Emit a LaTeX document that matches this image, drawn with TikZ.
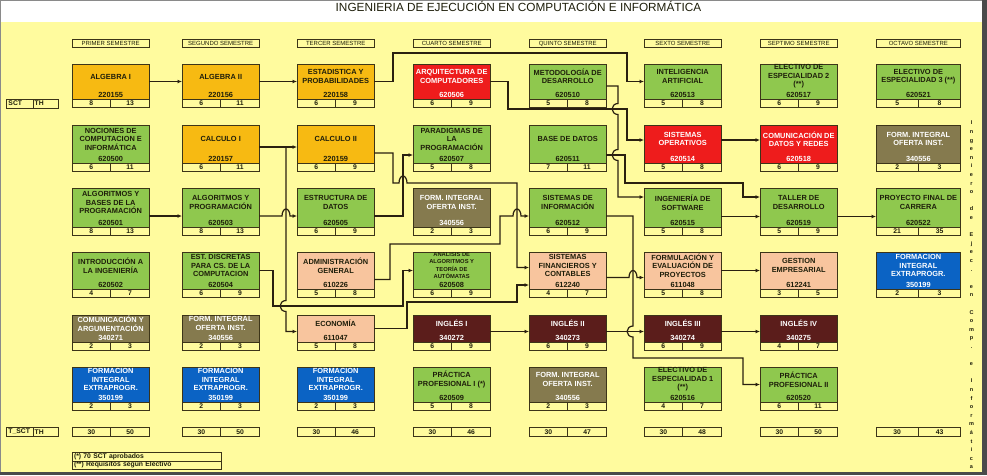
\documentclass[tikz,border=0pt]{standalone}
\usepackage{fontspec}
\setmainfont{Liberation Sans}
\usepackage{tikz}
\usetikzlibrary{arrows.meta}

\definecolor{cPaper}{HTML}{FFFB9E}
\definecolor{cFrame}{HTML}{8A8A8A}
\definecolor{cFrameDk}{HTML}{4A4A4A}
\definecolor{cAmber}{HTML}{F7BA12}
\definecolor{cLeaf}{HTML}{8FC84E}
\definecolor{cRed}{HTML}{EE1C1C}
\definecolor{cOlive}{HTML}{857A4E}
\definecolor{cBlue}{HTML}{0B63C4}
\definecolor{cPeach}{HTML}{F8C59E}
\definecolor{cWine}{HTML}{5B1D1B}
\definecolor{cEdge}{HTML}{3C3418}
\definecolor{cWire}{HTML}{2A2010}
\definecolor{cInk}{HTML}{1E1E0A}

%% one course: coloured block + SCT/TH strip below it
%% [#1 width] #2 name, #3 colour kind, #4 left x, #5 title, #6 code, #7 SCT, #8 TH
\newcommand{\course}[8][77.4]{%
  \node[#3box, minimum width=#1pt, minimum height=\rowh pt, anchor=north west]
    (#2) at (#4,\rowy) {};
  \node[ctitle, #3txt] (#2n) at ([yshift={-(\rowh-10)/2}]#2.north) {#5};
  \node[#3txt, ccode]  (#2c) at ([yshift=4.5]#2.south) {#6};
  \node[cell, minimum width=#1/2*1pt, anchor=north west] (#2s) at (#2.south west) {#7};
  \node[cell, minimum width=#1/2*1pt, anchor=north east] (#2t) at (#2.south east) {#8};
}
%% semester totals: [#1 width] #2 name, #3 left x, #4 SCT, #5 TH
\newcommand{\totals}[5][77.4]{%
  \node[cell, minimum width=#1/2*1pt, anchor=north west] (#2s) at (#3,427.7) {#4};
  \node[cell, minimum width=#1/2*1pt, anchor=north west] (#2t) at (#2s.north east) {#5};
}

\begin{document}
\begin{tikzpicture}[
    x=1pt, y=-1pt,
    >={Latex[length=4.5pt,width=4pt]},
    %% ── node styles ──────────────────────────────────────────
    box/.style    = {draw=cEdge, line width=0.8pt, inner sep=0pt, outer sep=0pt},
    ambbox/.style = {box, fill=cAmber},
    grnbox/.style = {box, fill=cLeaf},
    gsmbox/.style = {box, fill=cLeaf},
    redbox/.style = {box, fill=cRed},
    olvbox/.style = {box, fill=cOlive},
    blubox/.style = {box, fill=cBlue},
    pchbox/.style = {box, fill=cPeach},
    winbox/.style = {box, fill=cWine},
    ambtxt/.style = {text=cInk},
    grntxt/.style = {text=cInk},
    gsmtxt/.style = {text=cInk, font=\fontsize{5.8}{7.2}\selectfont\bfseries},
    pchtxt/.style = {text=cInk},
    redtxt/.style = {text=white},
    olvtxt/.style = {text=white},
    blutxt/.style = {text=white},
    wintxt/.style = {text=white},
    ctitle/.style = {font=\fontsize{7.4}{8.5}\selectfont\bfseries, align=center, inner sep=0pt},
    ccode/.style  = {font=\fontsize{7.4}{8.5}\selectfont\bfseries, inner sep=0pt},
    cell/.style   = {draw=cEdge, line width=0.8pt, inner sep=0pt, outer sep=0pt,
                     minimum height=8.6pt, text=cInk,
                     font=\fontsize{6.8}{7}\selectfont\bfseries},
    lbl/.style    = {cell, anchor=north west, align=left, text width=22pt},
    sem/.style    = {draw=cEdge, line width=0.7pt, inner sep=0pt, outer sep=0pt,
                     minimum width=77.4pt, minimum height=8.4pt, anchor=north west,
                     text=cInk, font=\fontsize{6}{6}\selectfont},
    arr/.style    = {->, line width=1.2pt, draw=cWire}
]

%% ── frame and title ──────────────────────────────────────────
\useasboundingbox (0,0) rectangle (987,475);
\fill[cFrame] (0,0) rectangle (987,475);
\fill[white] (1,1) rectangle (982,22);
\fill[cPaper] (1,22) rectangle (982,472);
\fill[cFrameDk] (982,0) rectangle (987,475);
\fill[cFrameDk] (0,472) rectangle (987,475);

\node[font=\fontsize{11.8}{12}\selectfont, text=cInk] (title) at (518.5,6.8)
    {INGENIERIA DE EJECUCIÓN EN COMPUTACIÓN E INFORMÁTICA};

%% ── semester headers ─────────────────────────────────────────
\node[sem] (sem1) at (72,39.3)  {PRIMER SEMESTRE};
\node[sem] (sem2) at (182,39.3) {SEGUNDO SEMESTRE};
\node[sem] (sem3) at (297,39.3) {TERCER SEMESTRE};
\node[sem] (sem4) at (413,39.3) {CUARTO SEMESTRE};
\node[sem] (sem5) at (529,39.3) {QUINTO SEMESTRE};
\node[sem] (sem6) at (644,39.3) {SEXTO SEMESTRE};
\node[sem] (sem7) at (760,39.3) {SEPTIMO SEMESTRE};
\node[sem, minimum width=84.7pt] (sem8) at (876,39.3) {OCTAVO SEMESTRE};

%% ── row labels ───────────────────────────────────────────────
\node[lbl, minimum width=27pt]   (sctl)  at (6,99.3)  {SCT};
\node[lbl, minimum width=25.3pt] (thl)   at (sctl.north east) {TH};
\node[lbl, minimum width=27pt]   (tsctl) at (6,427.7) {T\_SCT};
\node[lbl, minimum width=25.3pt] (tthl)  at (tsctl.north east) {TH};

%% ── row 1 ────────────────────────────────────────────────────
\def\rowy{64}\def\rowh{35}
\course{alg1}{amb}{72}{ALGEBRA I}{220155}{8}{13}
\course{alg2}{amb}{182}{ALGEBRA II}{220156}{6}{11}
\course{estad}{amb}{297}{ESTADISTICA Y\\PROBABILIDADES}{220158}{6}{9}
\course{arq}{red}{413}{ARQUITECTURA DE\\COMPUTADORES}{620506}{6}{9}
\course{metod}{grn}{529}{METODOLOGÍA DE\\DESARROLLO}{620510}{5}{8}
\course{ia}{grn}{644}{INTELIGENCIA\\ARTIFICIAL}{620513}{5}{8}
\course{elec2}{grn}{760}{ELECTIVO DE\\ESPECIALIDAD 2\\(**)}{620517}{6}{9}
\course[84.7]{elec3}{grn}{876}{ELECTIVO DE\\ESPECIALIDAD 3 (**)}{620521}{5}{8}

%% ── row 2 ────────────────────────────────────────────────────
\def\rowy{125}\def\rowh{38}
\course{noc}{grn}{72}{NOCIONES DE\\COMPUTACION E\\INFORMÁTICA}{620500}{6}{11}
\course{calc1}{amb}{182}{CALCULO I}{220157}{6}{11}
\course{calc2}{amb}{297}{CALCULO II}{220159}{6}{9}
\course{parad}{grn}{413}{PARADIGMAS DE\\LA\\PROGRAMACIÓN}{620507}{5}{8}
\course{bdat}{grn}{529}{BASE DE DATOS}{620511}{7}{11}
\course{so}{red}{644}{SISTEMAS\\OPERATIVOS}{620514}{5}{8}
\course{cdr}{red}{760}{COMUNICACIÓN DE\\DATOS Y REDES}{620518}{6}{9}
\course[84.7]{fio8}{olv}{876}{FORM. INTEGRAL\\OFERTA INST.}{340556}{2}{3}

%% ── row 3 ────────────────────────────────────────────────────
\def\rowy{188}\def\rowh{39}
\course{abp}{grn}{72}{ALGORITMOS Y\\BASES DE LA\\PROGRAMACIÓN}{620501}{8}{13}
\course{ayp}{grn}{182}{ALGORITMOS Y\\PROGRAMACIÓN}{620503}{8}{13}
\course{edat}{grn}{297}{ESTRUCTURA DE\\DATOS}{620505}{6}{9}
\course{fio4}{olv}{413}{FORM. INTEGRAL\\OFERTA INST.}{340556}{2}{3}
\course{sinf}{grn}{529}{SISTEMAS DE\\INFORMACIÓN}{620512}{6}{9}
\course{isw}{grn}{644}{INGENIERÍA DE\\SOFTWARE}{620515}{5}{8}
\course{taller}{grn}{760}{TALLER DE\\DESARROLLO}{620519}{5}{9}
\course[84.7]{proy}{grn}{876}{PROYECTO FINAL DE\\CARRERA}{620522}{21}{35}

%% ── row 4 ────────────────────────────────────────────────────
\def\rowy{252}\def\rowh{37}
\course{intro}{grn}{72}{INTRODUCCIÓN A\\LA INGENIERÍA}{620502}{4}{7}
\course{estd}{grn}{182}{EST. DISCRETAS\\PARA CS. DE LA\\COMPUTACION}{620504}{6}{9}
\course{admin}{pch}{297}{ADMINISTRACIÓN\\GENERAL}{610226}{5}{8}
\course{anal}{gsm}{413}{ANALISIS DE\\ALGORITMOS Y\\TEORÍA DE\\AUTÓMATAS}{620508}{6}{9}
\course{sfin}{pch}{529}{SISTEMAS\\FINANCIEROS Y\\CONTABLES}{612240}{4}{7}
\course{form}{pch}{644}{FORMULACIÓN Y\\EVALUACIÓN DE\\PROYECTOS}{611048}{5}{8}
\course{gest}{pch}{760}{GESTION\\EMPRESARIAL}{612241}{3}{5}
\course[84.7]{fie8}{blu}{876}{FORMACION\\INTEGRAL\\EXTRAPROGR.}{350199}{2}{3}

%% ── row 5 ────────────────────────────────────────────────────
\def\rowy{315}\def\rowh{27}
\course{comarg}{olv}{72}{COMUNICACIÓN Y\\ARGUMENTACIÓN}{340271}{2}{3}
\course{fio2}{olv}{182}{FORM. INTEGRAL\\OFERTA INST.}{340556}{2}{3}
\course{econ}{pch}{297}{ECONOMÍA}{611047}{5}{8}
\course{ing1}{win}{413}{INGLÉS I}{340272}{6}{9}
\course{ing2}{win}{529}{INGLÉS II}{340273}{6}{9}
\course{ing3}{win}{644}{INGLÉS III}{340274}{6}{9}
\course{ing4}{win}{760}{INGLÉS IV}{340275}{4}{7}

%% ── row 6 ────────────────────────────────────────────────────
\def\rowy{367}\def\rowh{35}
\course{fie1}{blu}{72}{FORMACION\\INTEGRAL\\EXTRAPROGR.}{350199}{2}{3}
\course{fie2}{blu}{182}{FORMACION\\INTEGRAL\\EXTRAPROGR.}{350199}{2}{3}
\course{fie3}{blu}{297}{FORMACION\\INTEGRAL\\EXTRAPROGR.}{350199}{2}{3}
\course{prac1}{grn}{413}{PRÁCTICA\\PROFESIONAL I (*)}{620509}{5}{8}
\course{fio5}{olv}{529}{FORM. INTEGRAL\\OFERTA INST.}{340556}{2}{3}
\course{elec1}{grn}{644}{ELECTIVO DE\\ESPECIALIDAD 1\\(**)}{620516}{4}{7}
\course{prac2}{grn}{760}{PRÁCTICA\\PROFESIONAL II}{620520}{6}{11}

%% ── totals ───────────────────────────────────────────────────
\totals{tot1}{72}{30}{50}
\totals{tot2}{182}{30}{50}
\totals{tot3}{297}{30}{46}
\totals{tot4}{413}{30}{46}
\totals{tot5}{529}{30}{47}
\totals{tot6}{644}{30}{48}
\totals{tot7}{760}{30}{50}
\totals[84.7]{tot8}{876}{30}{43}

%% ── footnotes ────────────────────────────────────────────────
\node[cell, anchor=north west, minimum width=149pt, minimum height=8.3pt,
      text width=145pt, align=left] (note1) at (72,452.7) {(*) 70 SCT aprobados};
\node[cell, anchor=north west, minimum width=149pt, minimum height=8.3pt,
      text width=145pt, align=left] (note2) at (note1.south west) {(**) Requisitos según Electivo};

%% ── side legend ──────────────────────────────────────────────
\node[anchor=north, inner sep=0pt, align=center, text=cInk,
      font=\fontsize{5.5}{8.6}\selectfont\bfseries] (side) at (971.5,121)
    {I\\n\\g\\e\\n\\i\\e\\r\\o\\[8.6pt]d\\e\\[8.6pt]E\\j\\e\\c\\.\\[8.6pt]e\\n\\[8.6pt]%
     C\\o\\m\\p\\.\\[8.6pt]e\\[8.6pt]I\\n\\f\\o\\r\\m\\á\\t\\i\\c\\a};

%% ── arrows: straight runs ────────────────────────────────────
\draw[arr] (alg1) -- (alg2);
\draw[arr] (alg2) -- (estad);
\draw[arr] ([yshift=-3pt]calc1.east) -- ([yshift=-3pt]calc2.west);
\draw[arr] ([yshift=-8.5pt]abp.east) -- ([yshift=-8.5pt]ayp.west);
\draw[arr] ([yshift=4pt]so.east) -- ([yshift=4pt]cdr.west);
\draw[arr] ([yshift=-9pt]isw.east) -- ([yshift=-9pt]taller.west);
\draw[arr] ([yshift=-9pt]taller.east) -- ([yshift=-9pt]proy.west);
\draw[arr] (form) -- (gest);
\draw[arr] ([yshift=-3pt]ing1.east) -- ([yshift=-3pt]ing2.west);
\draw[arr] ([yshift=-3pt]ing2.east) -- ([yshift=-3pt]ing3.west);
\draw[arr] ([yshift=-3pt]ing3.east) -- ([yshift=-3pt]ing4.west);

%% ── arrows: elbow runs ───────────────────────────────────────
\draw[arr] (estad.east) -| (393,53) -| (627,81.5) -- (ia.west);
\draw[arr] (arq.east) -| (508,109) -| (627,140) -- ([yshift=4pt]so.west);
\draw[arr] ([yshift=-4.5pt]metod.east) -- (618,86) -- (618,103.5)
    arc[start angle=90, end angle=270, x radius=6pt, y radius=5.5pt] -- (618,149.5)
    arc[start angle=90, end angle=270, x radius=6pt, y radius=5.5pt]
    |- ([yshift=10.5pt]isw.west);
\draw[arr] ([yshift=-11pt]bdat.east) -| (625,183) -| (743,197) -- ([yshift=10.5pt]taller.west);
\draw[arr] ([yshift=-3pt]calc1.east) -| (286,300.5)
    arc[start angle=90, end angle=270, x radius=6pt, y radius=5.5pt]
    |- ([yshift=-3pt]econ.west);
\draw[arr] ([yshift=-8.5pt]ayp.east) -- (282,216)
    arc[start angle=180, end angle=0, x radius=4pt, y radius=7pt]
    -- ([yshift=-8.5pt]edat.west);
\draw[arr] ([yshift=-8.5pt]edat.east) -| (403,155) -- ([yshift=-11pt]parad.west);
\draw[arr] ([yshift=-9pt]calc2.east) -| (393,183) -- (399,183)
    arc[start angle=180, end angle=0, x radius=4pt, y radius=7pt]
    -| (517,183) |- ([yshift=3pt]sfin.west);
\draw[arr] ([yshift=-9pt]admin.east) -| (390,244) -| (500,216) -- (513,216)
    arc[start angle=180, end angle=0, x radius=4pt, y radius=7pt]
    -- ([yshift=-8.5pt]sinf.west);
\draw[arr] (estd.east) -| (273,306) -| (403,270.5) -- (anal.west);
\draw[arr] (econ.east) -| (407,302) -| (517,285) -- ([yshift=-14.5pt]sfin.west);
\draw[arr] ([yshift=-7pt]sfin.east) -- (629,277.5)
    arc[start angle=180, end angle=0, x radius=4pt, y radius=7pt]
    -- ([yshift=-7pt]form.west);
\draw[arr] ([yshift=-8.5pt]sinf.east) -| (633,326)
    arc[start angle=90, end angle=270, x radius=6pt, y radius=5.5pt]
    |- (743,358) |- (prac2.west);

\end{tikzpicture}
\end{document}
